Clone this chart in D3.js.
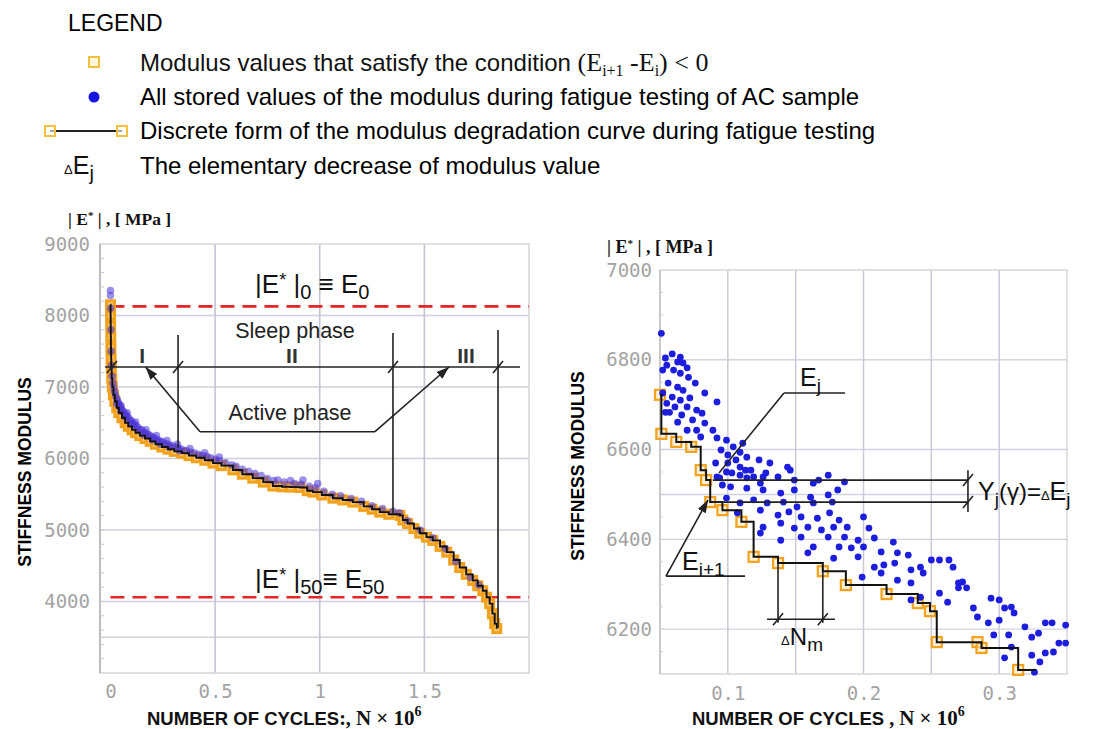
<!DOCTYPE html>
<html>
<head>
<meta charset="utf-8">
<script src="https://cdn.jsdelivr.net/npm/d3@7"></script>
<style>
  body { margin: 0; background: #fff; }
  text { font-family: "Liberation Sans", Arial, sans-serif; }
</style>
</head>
<body>
<script>
// ---- data ----
// left chart: discrete degradation curve, [N x 10^6, |E*| MPa]
var leftSteps = [
  [0, 8150], [0.0005, 8000], [0.001, 7850], [0.0015, 7700], [0.002, 7550], [0.003, 7400],
  [0.004, 7260], [0.006, 7120], [0.009, 7000], [0.014, 6890], [0.021, 6800], [0.030, 6710],
  [0.040, 6640], [0.055, 6570], [0.070, 6500], [0.085, 6450], [0.103, 6400], [0.120, 6360],
  [0.140, 6320], [0.165, 6280], [0.190, 6240], [0.215, 6200], [0.246, 6160], [0.275, 6130],
  [0.305, 6100], [0.341, 6075], [0.375, 6040], [0.410, 6010], [0.451, 5975], [0.490, 5935],
  [0.530, 5900], [0.585, 5840], [0.630, 5780], [0.680, 5725], [0.730, 5670], [0.776, 5615],
  [0.820, 5605], [0.860, 5600], [0.905, 5595], [0.940, 5550], [0.967, 5530], [1.010, 5490],
  [1.063, 5445], [1.110, 5420], [1.158, 5390], [1.210, 5330], [1.250, 5290], [1.287, 5250],
  [1.330, 5220], [1.383, 5205], [1.397, 5140], [1.420, 5090], [1.450, 5020], [1.478, 4955],
  [1.510, 4900], [1.540, 4855], [1.575, 4770], [1.607, 4690], [1.640, 4580], [1.669, 4475],
  [1.700, 4380], [1.731, 4295], [1.755, 4220], [1.779, 4150], [1.797, 4060], [1.812, 3970],
  [1.825, 3830], [1.836, 3690], [1.846, 3620]
];
// left chart: all stored modulus values
var leftStored = [
  [0, 8350], [0, 8280], [0.001, 8100], [0.002, 7800], [0.003, 7500], [0.005, 7300], [0.008, 7150],
  [0.012, 7060], [0.016, 6990], [0.020, 6930], [0.025, 6880], [0.030, 6830], [0.035, 6800],
  [0.040, 6770], [0.045, 6730], [0.050, 6710], [0.055, 6680], [0.060, 6660], [0.070, 6630],
  [0.075, 6600], [0.080, 6590], [0.090, 6560], [0.095, 6530], [0.100, 6520], [0.110, 6490],
  [0.115, 6470], [0.120, 6460], [0.130, 6440], [0.140, 6410], [0.150, 6400], [0.160, 6370],
  [0.170, 6350], [0.180, 6340], [0.190, 6320], [0.200, 6300], [0.210, 6290], [0.220, 6270],
  [0.230, 6250], [0.240, 6240], [0.250, 6230], [0.265, 6210], [0.280, 6190], [0.295, 6180],
  [0.310, 6160], [0.325, 6150], [0.340, 6130], [0.360, 6110], [0.380, 6090], [0.400, 6080],
  [0.420, 6060], [0.440, 6040], [0.460, 6030], [0.480, 6010], [0.500, 5990], [0.520, 5970],
  [0.550, 5940], [0.580, 5910], [0.600, 5890], [0.630, 5850], [0.660, 5820], [0.690, 5790],
  [0.720, 5760], [0.750, 5720], [0.780, 5690], [0.800, 5700], [0.830, 5670], [0.860, 5690],
  [0.880, 5650], [0.910, 5640], [0.950, 5610], [0.980, 5590], [1.020, 5540], [1.060, 5500],
  [1.100, 5480], [1.150, 5440], [1.200, 5400], [1.250, 5340], [1.300, 5300], [1.350, 5260],
  [1.380, 5240], [1.420, 5130], [1.480, 5000], [1.540, 4890], [1.600, 4740], [1.650, 4560],
  [1.720, 4340], [1.760, 4230],
  [0.030, 6760], [0.050, 6660], [0.070, 6580], [0.100, 6480], [0.130, 6400], [0.160, 6330],
  [0.200, 6260], [0.240, 6200], [0.280, 6160], [0.330, 6110],
  [0.050, 6740], [0.080, 6640], [0.120, 6510], [0.170, 6400], [0.220, 6320], [0.270, 6250],
  [0.320, 6200], [0.380, 6140], [0.450, 6080], [0.520, 6020], [0.920, 5700], [0.990, 5650]
];
var leftE0 = 8128, leftE50 = 4060;

// right chart (zoom on the start of the test)
var rightSteps = [
  [0.050, 6722], [0.051, 6635], [0.062, 6617], [0.073, 6606], [0.080, 6554], [0.084, 6532],
  [0.087, 6483], [0.096, 6465], [0.110, 6439], [0.119, 6361], [0.137, 6347], [0.170, 6329],
  [0.187, 6298], [0.217, 6278], [0.240, 6258], [0.249, 6240], [0.254, 6171], [0.284, 6171],
  [0.287, 6158], [0.314, 6109]
];
var rightStepEnd = 0.327;
var rightStored = [
  [0.051, 6859], [0.059, 6813], [0.065, 6806], [0.054, 6804], [0.063, 6795], [0.067, 6793],
  [0.055, 6788], [0.070, 6782], [0.052, 6777], [0.060, 6777], [0.065, 6770], [0.071, 6761],
  [0.076, 6748], [0.056, 6748], [0.063, 6739], [0.067, 6732], [0.052, 6726], [0.059, 6717],
  [0.065, 6710], [0.083, 6726], [0.072, 6715], [0.092, 6706], [0.055, 6703], [0.061, 6695],
  [0.070, 6695], [0.077, 6688], [0.066, 6677], [0.057, 6683], [0.081, 6681], [0.074, 6666],
  [0.054, 6683], [0.063, 6661], [0.083, 6659], [0.089, 6643], [0.077, 6643], [0.070, 6643],
  [0.080, 6628], [0.092, 6626], [0.099, 6621], [0.111, 6614], [0.104, 6606], [0.095, 6599],
  [0.100, 6588], [0.109, 6594], [0.114, 6583], [0.106, 6577], [0.123, 6577], [0.144, 6561],
  [0.131, 6570], [0.100, 6570], [0.109, 6561], [0.117, 6554], [0.103, 6548], [0.126, 6539],
  [0.174, 6543], [0.114, 6537], [0.094, 6537], [0.091, 6570], [0.113, 6554], [0.128, 6548],
  [0.146, 6554], [0.167, 6532], [0.092, 6539], [0.096, 6521],
  [0.099, 6550], [0.109, 6543], [0.119, 6539], [0.124, 6525], [0.137, 6539], [0.149, 6532],
  [0.163, 6525], [0.102, 6517], [0.114, 6514], [0.126, 6510], [0.139, 6503], [0.149, 6510],
  [0.161, 6494], [0.174, 6499], [0.181, 6510], [0.099, 6492], [0.109, 6481], [0.119, 6488],
  [0.129, 6481], [0.141, 6483], [0.151, 6472], [0.163, 6481], [0.177, 6483], [0.107, 6459],
  [0.124, 6465], [0.137, 6454], [0.145, 6461], [0.154, 6450], [0.166, 6447], [0.175, 6459],
  [0.182, 6443], [0.126, 6427], [0.139, 6436], [0.149, 6425], [0.159, 6427], [0.169, 6421],
  [0.178, 6427], [0.124, 6414], [0.139, 6398], [0.154, 6405], [0.163, 6383], [0.174, 6405],
  [0.182, 6383], [0.159, 6370], [0.178, 6358],
  [0.186, 6528], [0.200, 6450], [0.188, 6427], [0.204, 6425], [0.186, 6405], [0.196, 6398],
  [0.208, 6403], [0.222, 6394], [0.191, 6381], [0.200, 6383], [0.213, 6372], [0.225, 6370],
  [0.233, 6365], [0.196, 6361], [0.208, 6338], [0.215, 6343], [0.223, 6347], [0.235, 6332],
  [0.242, 6338], [0.250, 6354], [0.256, 6354], [0.263, 6354], [0.199, 6316], [0.213, 6325],
  [0.225, 6309], [0.235, 6303], [0.244, 6325], [0.266, 6338], [0.270, 6303], [0.273, 6305],
  [0.276, 6292], [0.270, 6292], [0.256, 6280], [0.242, 6271], [0.235, 6265], [0.262, 6260],
  [0.294, 6269], [0.300, 6265], [0.304, 6247], [0.309, 6249], [0.281, 6247], [0.284, 6227],
  [0.292, 6214], [0.300, 6220], [0.311, 6236], [0.319, 6205], [0.334, 6214], [0.339, 6214],
  [0.349, 6209], [0.307, 6187], [0.296, 6187], [0.324, 6182], [0.329, 6191], [0.344, 6169],
  [0.349, 6169], [0.309, 6160], [0.324, 6142], [0.334, 6147], [0.340, 6149], [0.330, 6127],
  [0.326, 6104], [0.304, 6136]
];

// ticks
var leftYTicks = [4000, 5000, 6000, 7000, 8000, 9000];
var leftYGrid = [3500, 4000, 5000, 6000, 7000, 8000];
var leftXTicks = [0, 0.5, 1, 1.5];
var rightYTicks = [6200, 6400, 6600, 6800, 7000];
var rightYGrid = [6200, 6400, 6500, 6600, 6800];
var rightXTicks = [0.1, 0.2, 0.3];
var rightXGrid = [0.1, 0.15, 0.2, 0.25, 0.3];

var width = 1094, height = 729;
var orange = "#f2a11d", ink = "#222";

var svg = d3.select("body").append("svg")
  .attr("width", width)
  .attr("height", height);

svg.append("defs").append("marker")
  .attr("id", "arrow")
  .attr("viewBox", "0 0 10 10")
  .attr("refX", 10).attr("refY", 5)
  .attr("markerWidth", 8).attr("markerHeight", 8)
  .attr("orient", "auto")
  .append("path")
  .attr("d", "M0,1.5 L10,5 L0,8.5 Z")
  .attr("fill", ink);

// text made of pieces: {t, size, shift, fam, w}
function richText(g, x, y, parts, anchor) {
  var t = g.append("text").attr("x", x).attr("y", y)
    .style("text-anchor", anchor || "start").style("fill", "#111");
  var cur = 0;
  parts.forEach(function (p) {
    var s = p.shift || 0;
    var ts = t.append("tspan").text(p.t)
      .attr("dy", s - cur)
      .style("font-size", (p.size || 24) + "px");
    if (p.fam) ts.style("font-family", p.fam);
    if (p.w) ts.style("font-weight", p.w);
    cur = s;
  });
  return t;
}
var serif = '"Liberation Serif", "Times New Roman", serif';

// ---- legend ----
var lg = svg.append("g");
lg.append("text").attr("x", 68).attr("y", 31).style("font-size", "23px").text("LEGEND");
lg.append("rect").attr("x", 89).attr("y", 57).attr("width", 10).attr("height", 10)
  .attr("fill", "#fff7dc").attr("stroke", "#f4c040").attr("stroke-width", 2);
richText(lg, 140, 71, [
  { t: "Modulus values that satisfy the condition " },
  { t: "(E", fam: serif, size: 26 },
  { t: "i+1", fam: serif, size: 16, shift: 5 },
  { t: " -E", fam: serif, size: 26 },
  { t: "i", fam: serif, size: 16, shift: 5 },
  { t: ") < 0", fam: serif, size: 26 }
]);
lg.append("circle").attr("cx", 94).attr("cy", 97).attr("r", 5.5).attr("fill", "#1616e0");
lg.append("text").attr("x", 140).attr("y", 105).style("font-size", "24px")
  .text("All stored values of the modulus during fatigue testing of AC sample");
lg.append("line").attr("x1", 50).attr("x2", 122).attr("y1", 131).attr("y2", 131)
  .attr("stroke", ink).attr("stroke-width", 1.8);
[50, 122].forEach(function (cx) {
  lg.append("rect").attr("x", cx - 5).attr("y", 126).attr("width", 10).attr("height", 10)
    .attr("fill", "#fff").attr("fill-opacity", 0.6).attr("stroke", "#f4c040").attr("stroke-width", 2);
});
lg.append("text").attr("x", 140).attr("y", 139).style("font-size", "24px")
  .text("Discrete form of the modulus degradation curve during fatigue testing");
richText(lg, 64, 174, [
  { t: "\u0394", size: 13 },
  { t: "E", size: 25 },
  { t: "j", size: 20, shift: 6 }
]);
lg.append("text").attr("x", 140).attr("y", 174).style("font-size", "24px")
  .text("The elementary decrease of modulus value");

// ---- shared drawing helpers ----
function tickStyle(sel) {
  sel.select(".domain").remove();
  sel.selectAll("text")
    .style("font-family", '"DejaVu Sans Mono", monospace')
    .style("font-size", "19px")
    .style("fill", "#a3a3a3");
}
function slash(g, x, y) {
  g.append("line").attr("x1", x - 5).attr("y1", y + 6).attr("x2", x + 5).attr("y2", y - 6)
    .attr("stroke", ink).attr("stroke-width", 1.6);
}
function seg(g, x1, y1, x2, y2, arrow) {
  var l = g.append("line").attr("x1", x1).attr("y1", y1).attr("x2", x2).attr("y2", y2)
    .attr("stroke", ink).attr("stroke-width", 1.6);
  if (arrow) l.attr("marker-end", "url(#arrow)");
  return l;
}
var plain = function (d) { return String(d); };

// ================= left chart =================
var xL = d3.scaleLinear().domain([-0.05, 2.0]).range([100, 529]);
var yL = d3.scaleLinear().domain([3000, 9000]).range([673, 244]);
var gl = svg.append("g");

gl.selectAll(".hgrid").data(leftYGrid).enter().append("line")
  .attr("x1", 100).attr("x2", 529)
  .attr("y1", function (d) { return yL(d); }).attr("y2", function (d) { return yL(d); })
  .attr("stroke", "#cfd0de").attr("stroke-width", 1.4);
gl.selectAll(".vgrid").data(leftXTicks.slice(1)).enter().append("line")
  .attr("y1", 244).attr("y2", 673)
  .attr("x1", function (d) { return xL(d); }).attr("x2", function (d) { return xL(d); })
  .attr("stroke", "#c3c4d2").attr("stroke-width", 1.6);
gl.append("rect").attr("x", 100).attr("y", 244).attr("width", 429).attr("height", 429)
  .attr("fill", "none").attr("stroke", "#d6d6d6").attr("stroke-width", 1.5);
gl.append("line").attr("x1", 100).attr("x2", 100).attr("y1", 244).attr("y2", 673)
  .attr("stroke", "#bdbdbd").attr("stroke-width", 2);
gl.selectAll(".minor").data(d3.range(3200, 9000, 200)).enter().append("line")
  .attr("x1", 100).attr("x2", 104)
  .attr("y1", function (d) { return yL(d); }).attr("y2", function (d) { return yL(d); })
  .attr("stroke", "#c8c8c8").attr("stroke-width", 1);

gl.append("g").attr("transform", "translate(100,0)")
  .call(d3.axisLeft(yL).tickValues(leftYTicks).tickSize(0).tickPadding(10).tickFormat(plain))
  .call(tickStyle);
gl.append("g").attr("transform", "translate(0,673)")
  .call(d3.axisBottom(xL).tickValues(leftXTicks).tickSize(0).tickPadding(11.5).tickFormat(plain))
  .call(tickStyle);

// red reference lines
[leftE0, leftE50].forEach(function (e) {
  gl.append("line").attr("x1", xL(0)).attr("x2", 529).attr("y1", yL(e)).attr("y2", yL(e))
    .attr("stroke", "#e52424").attr("stroke-width", 2.6).attr("stroke-dasharray", "14,8");
});

// curve: squares, stored values, step line
gl.selectAll(".sqL").data(leftSteps).enter().append("rect")
  .attr("x", function (d) { return xL(d[0]) - 4; })
  .attr("y", function (d) { return yL(d[1]) - 4; })
  .attr("width", 8).attr("height", 8)
  .attr("fill", "#f9c56a").attr("stroke", orange).attr("stroke-width", 3);
gl.selectAll(".dotL").data(leftStored).enter().append("circle")
  .attr("cx", function (d) { return xL(d[0]); })
  .attr("cy", function (d) { return yL(d[1]); })
  .attr("r", 3.8).attr("fill", "#4a36d8").attr("fill-opacity", 0.55);
gl.append("path").datum(leftSteps)
  .attr("d", d3.line().curve(d3.curveStepAfter)
    .x(function (d) { return xL(d[0]); }).y(function (d) { return yL(d[1]); }))
  .attr("fill", "none").attr("stroke", "#111").attr("stroke-width", 1.9);

// phase annotations
var phaseE = 7280;
seg(gl, xL(-0.026), yL(phaseE), xL(1.957), yL(phaseE));
[[0.323, 7727, 6147], [1.350, 7755, 5238], [1.852, 7797, 3629]].forEach(function (b) {
  seg(gl, xL(b[0]), yL(b[1]), xL(b[0]), yL(b[2]));
  slash(gl, xL(b[0]), yL(phaseE));
});
slash(gl, xL(0.007), yL(phaseE));
[["I", 0.151], ["II", 0.867], ["III", 1.699]].forEach(function (p) {
  gl.append("text").attr("x", xL(p[1])).attr("y", yL(7336))
    .style("text-anchor", "middle").style("font-size", "21px").style("font-weight", "bold")
    .style("fill", "#333").text(p[0]);
});
gl.append("text").attr("x", xL(0.882)).attr("y", yL(7685)).style("text-anchor", "middle")
  .style("font-size", "21.5px").style("fill", "#222").text("Sleep phase");
gl.append("text").attr("x", xL(0.858)).attr("y", yL(6538)).style("text-anchor", "middle")
  .style("font-size", "21.5px").style("fill", "#222").text("Active phase");
seg(gl, xL(0.428), yL(6375), xL(0.168), yL(phaseE), true);
seg(gl, xL(0.428), yL(6375), xL(1.264), yL(6375));
seg(gl, xL(1.264), yL(6375), xL(1.618), yL(phaseE), true);

richText(gl, xL(0.691), yL(8315), [
  { t: "|E", size: 26 }, { t: "*", size: 18, shift: -7 }, { t: " |", size: 26 },
  { t: "0", size: 20, shift: 6 }, { t: " \u2261 E", size: 26 }, { t: "0", size: 20, shift: 6 }
]);
richText(gl, xL(0.691), yL(4189), [
  { t: "|E", size: 26 }, { t: "*", size: 18, shift: -7 }, { t: " |", size: 26 },
  { t: "50", size: 20, shift: 6 }, { t: "\u2261 E", size: 26 }, { t: "50", size: 20, shift: 6 }
]);

// axis titles
richText(gl, 68, 225, [
  { t: "| E", size: 17.5, w: "bold", fam: serif }, { t: "*", size: 11, shift: -6, w: "bold", fam: serif },
  { t: " | , [ MPa ]", size: 17.5, w: "bold", fam: serif }
]);
gl.append("text").attr("transform", "translate(31,472) rotate(-90)")
  .style("text-anchor", "middle").style("font-size", "17.5px").style("font-weight", "bold")
  .text("STIFFNESS MODULUS");
richText(gl, 147, 725, [
  { t: "NUMBER OF CYCLES", size: 18.5, w: "bold" },
  { t: ":,  ", size: 20, w: "bold", fam: serif },
  { t: "N \u00d7 10", size: 21, w: "bold", fam: serif },
  { t: "6", size: 14, shift: -9, w: "bold", fam: serif }
]);

// ================= right chart =================
var xR = d3.scaleLinear().domain([0.05, 0.35]).range([660, 1067]);
var yR = d3.scaleLinear().domain([6100, 7000]).range([674, 270]);
var gr = svg.append("g");

gr.selectAll(".hgrid").data(rightYGrid).enter().append("line")
  .attr("x1", 660).attr("x2", 1067)
  .attr("y1", function (d) { return yR(d); }).attr("y2", function (d) { return yR(d); })
  .attr("stroke", "#d2d3e0").attr("stroke-width", 1.4);
gr.selectAll(".vgrid").data(rightXGrid).enter().append("line")
  .attr("y1", 270).attr("y2", 674)
  .attr("x1", function (d) { return xR(d); }).attr("x2", function (d) { return xR(d); })
  .attr("stroke", "#c9cad8").attr("stroke-width", 1.5);
gr.append("rect").attr("x", 660).attr("y", 270).attr("width", 407).attr("height", 404)
  .attr("fill", "none").attr("stroke", "#d6d6d6").attr("stroke-width", 1.5);
gr.append("line").attr("x1", 660).attr("x2", 660).attr("y1", 270).attr("y2", 674)
  .attr("stroke", "#c4c4c4").attr("stroke-width", 1.6);
gr.selectAll(".minor").data(d3.range(6150, 7000, 50)).enter().append("line")
  .attr("x1", 660).attr("x2", 663)
  .attr("y1", function (d) { return yR(d); }).attr("y2", function (d) { return yR(d); })
  .attr("stroke", "#cfcfcf").attr("stroke-width", 1);

gr.append("g").attr("transform", "translate(660,0)")
  .call(d3.axisLeft(yR).tickValues(rightYTicks).tickSize(0).tickPadding(8).tickFormat(plain))
  .call(tickStyle);
gr.append("g").attr("transform", "translate(0,674)")
  .call(d3.axisBottom(xR).tickValues(rightXTicks).tickSize(0).tickPadding(12.5).tickFormat(plain))
  .call(tickStyle);

gr.selectAll(".sqR").data(rightSteps).enter().append("rect")
  .attr("x", function (d) { return xR(d[0]) - 5; })
  .attr("y", function (d) { return yR(d[1]) - 5; })
  .attr("width", 10).attr("height", 10)
  .attr("fill", "#fde3b0").attr("fill-opacity", 0.5)
  .attr("stroke", orange).attr("stroke-width", 2.2);
gr.selectAll(".dotR").data(rightStored).enter().append("circle")
  .attr("cx", function (d) { return xR(d[0]); })
  .attr("cy", function (d) { return yR(d[1]); })
  .attr("r", 3.4).attr("fill", "#1d1ddd");
var lastStep = rightSteps[rightSteps.length - 1];
gr.append("path").datum(rightSteps.concat([[rightStepEnd, lastStep[1]]]))
  .attr("d", d3.line().curve(d3.curveStepAfter)
    .x(function (d) { return xR(d[0]); }).y(function (d) { return yR(d[1]); }))
  .attr("fill", "none").attr("stroke", "#111").attr("stroke-width", 2);

// Ej leader
seg(gr, xR(0.0935), yR(6548), xR(0.1414), yR(6726));
seg(gr, xR(0.1414), yR(6726), xR(0.1864), yR(6726));
richText(gr, xR(0.1532), yR(6742), [{ t: "E", size: 25 }, { t: "j", size: 19, shift: 6 }]);

// Yj = dEj dimension
var yjUp = 6532, yjLow = 6483, yjX = 0.277;
seg(gr, xR(0.089), yR(yjUp), xR(yjX), yR(yjUp));
seg(gr, xR(0.089), yR(yjLow), xR(yjX), yR(yjLow));
seg(gr, xR(yjX), yR(6554), xR(yjX), yR(6461));
slash(gr, xR(yjX), yR(yjUp));
slash(gr, xR(yjX), yR(yjLow));
richText(gr, xR(0.2844), yR(6488), [
  { t: "Y", size: 25 }, { t: "j", size: 19, shift: 6 }, { t: "(\u03b3)", size: 24 },
  { t: "=", size: 24 }, { t: "\u0394", size: 13 }, { t: "E", size: 25 }, { t: "j", size: 19, shift: 6 }
]);

// Ei+1 leader
seg(gr, xR(0.0544), yR(6318), xR(0.0854), yR(6488), true);
seg(gr, xR(0.0544), yR(6318), xR(0.1127), yR(6318));
richText(gr, xR(0.0662), yR(6332), [{ t: "E", size: 25 }, { t: "i+1", size: 19, shift: 6 }]);

// dNm dimension
var nmE = 6222;
[rightSteps[10], rightSteps[11]].forEach(function (d) {
  seg(gr, xR(d[0]), yR(d[1]), xR(d[0]), yR(6214));
  slash(gr, xR(d[0]), yR(nmE));
});
seg(gr, xR(0.1289), yR(nmE), xR(0.179), yR(nmE));
richText(gr, xR(0.1547), yR(6165), [
  { t: "\u0394", size: 13 }, { t: "N", size: 24 }, { t: "m", size: 19, shift: 6 }
], "middle");

// axis titles
richText(gr, 607, 253, [
  { t: "| E", size: 18, w: "bold", fam: serif }, { t: "*", size: 11, shift: -6, w: "bold", fam: serif },
  { t: " | , [ MPa ]", size: 18, w: "bold", fam: serif }
]);
gr.append("text").attr("transform", "translate(584,466) rotate(-90)")
  .style("text-anchor", "middle").style("font-size", "17.5px").style("font-weight", "bold")
  .text("STIFFNESS MODULUS");
richText(gr, 692, 725, [
  { t: "NUMBER OF CYCLES", size: 18.5, w: "bold" },
  { t: " ,  ", size: 20, w: "bold", fam: serif },
  { t: "N \u00d7 10", size: 21, w: "bold", fam: serif },
  { t: "6", size: 14, shift: -9, w: "bold", fam: serif }
]);
</script>
</body>
</html>
